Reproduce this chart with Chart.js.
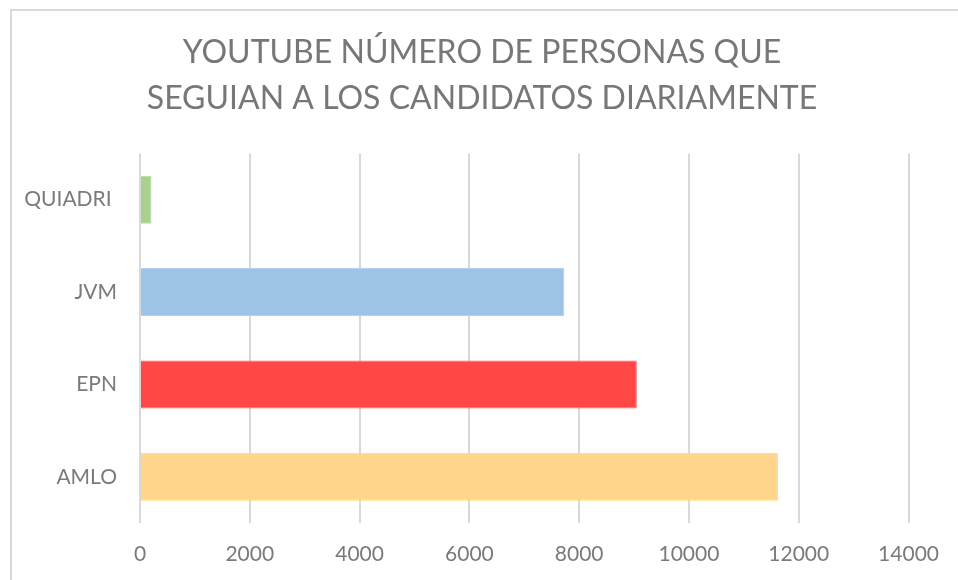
<!DOCTYPE html>
<html>
<head>
<meta charset="utf-8">
<script src="https://cdn.jsdelivr.net/npm/chart.js@4"></script>
<style>
  html, body { margin: 0; padding: 0; background: #ffffff; overflow: hidden; }
  #wrap { position: relative; width: 958px; height: 580px; }
  #frame { position: absolute; left: 10px; top: 9px; width: 1000px; height: 1000px;
           border: 2px solid #d9d9d9; box-sizing: border-box; pointer-events: none; }
  canvas { position: absolute; left: 0; top: 0; }
</style>
</head>
<body>
<div id="wrap">
  <div id="frame"></div>
  <canvas id="c" width="958" height="580"></canvas>
</div>
<script>
const categories = ['QUIADRI ', 'JVM', 'EPN', 'AMLO'];
const values = [210, 7730, 9050, 11620];
const barColors = ['#A9D18E', '#9DC3E6', '#FF4747', '#FFD68B'];
const barBorders = ['#B7DA9F', '#B4D2EE', '#FF5A5A', '#FFD966'];
const titleLines = ['YOUTUBE NÚMERO DE PERSONAS QUE', 'SEGUIAN A LOS CANDIDATOS DIARIAMENTE'];
const xMin = 0, xMax = 14000, xStep = 2000;

const titleShift = {
  id: 'titleShift',
  afterLayout(chart) {
    if (chart.titleBlock) { chart.titleBlock.left = 54; }
  }
};

new Chart(document.getElementById('c'), {
  type: 'bar',
  data: {
    labels: categories,
    datasets: [{
      data: values,
      backgroundColor: barColors,
      borderColor: barBorders,
      borderWidth: 1,
      barPercentage: 0.52,
      categoryPercentage: 1.0
    }]
  },
  plugins: [titleShift],
  options: {
    indexAxis: 'y',
    responsive: false,
    animation: false,
    devicePixelRatio: 1,
    layout: { padding: { left: 0, right: 48, top: 0, bottom: 0 } },
    plugins: {
      legend: { display: false },
      tooltip: { enabled: false },
      title: {
        display: true,
        text: titleLines,
        color: '#777777',
        font: { family: 'Lato', size: 32, weight: 'normal', lineHeight: 1.43 },
        padding: { top: 30, bottom: 32 }
      }
    },
    scales: {
      x: {
        min: xMin, max: xMax,
        afterFit: (s) => { s.height = 57; },
        ticks: { stepSize: xStep, color: '#7a7a7a', padding: 19,
                 font: { family: 'Lato', size: 21, lineHeight: 1.2 },
                 callback: (v) => String(v) },
        grid: { color: '#d9d9d9', lineWidth: 2, drawTicks: false },
        border: { display: false }
      },
      y: {
        afterFit: (s) => { s.width = 140; },
        ticks: { color: '#7a7a7a', padding: 23,
                 font: { family: 'Lato', size: 21 } },
        grid: { display: false, drawTicks: false },
        border: { display: false }
      }
    }
  }
});
</script>
</body>
</html>
